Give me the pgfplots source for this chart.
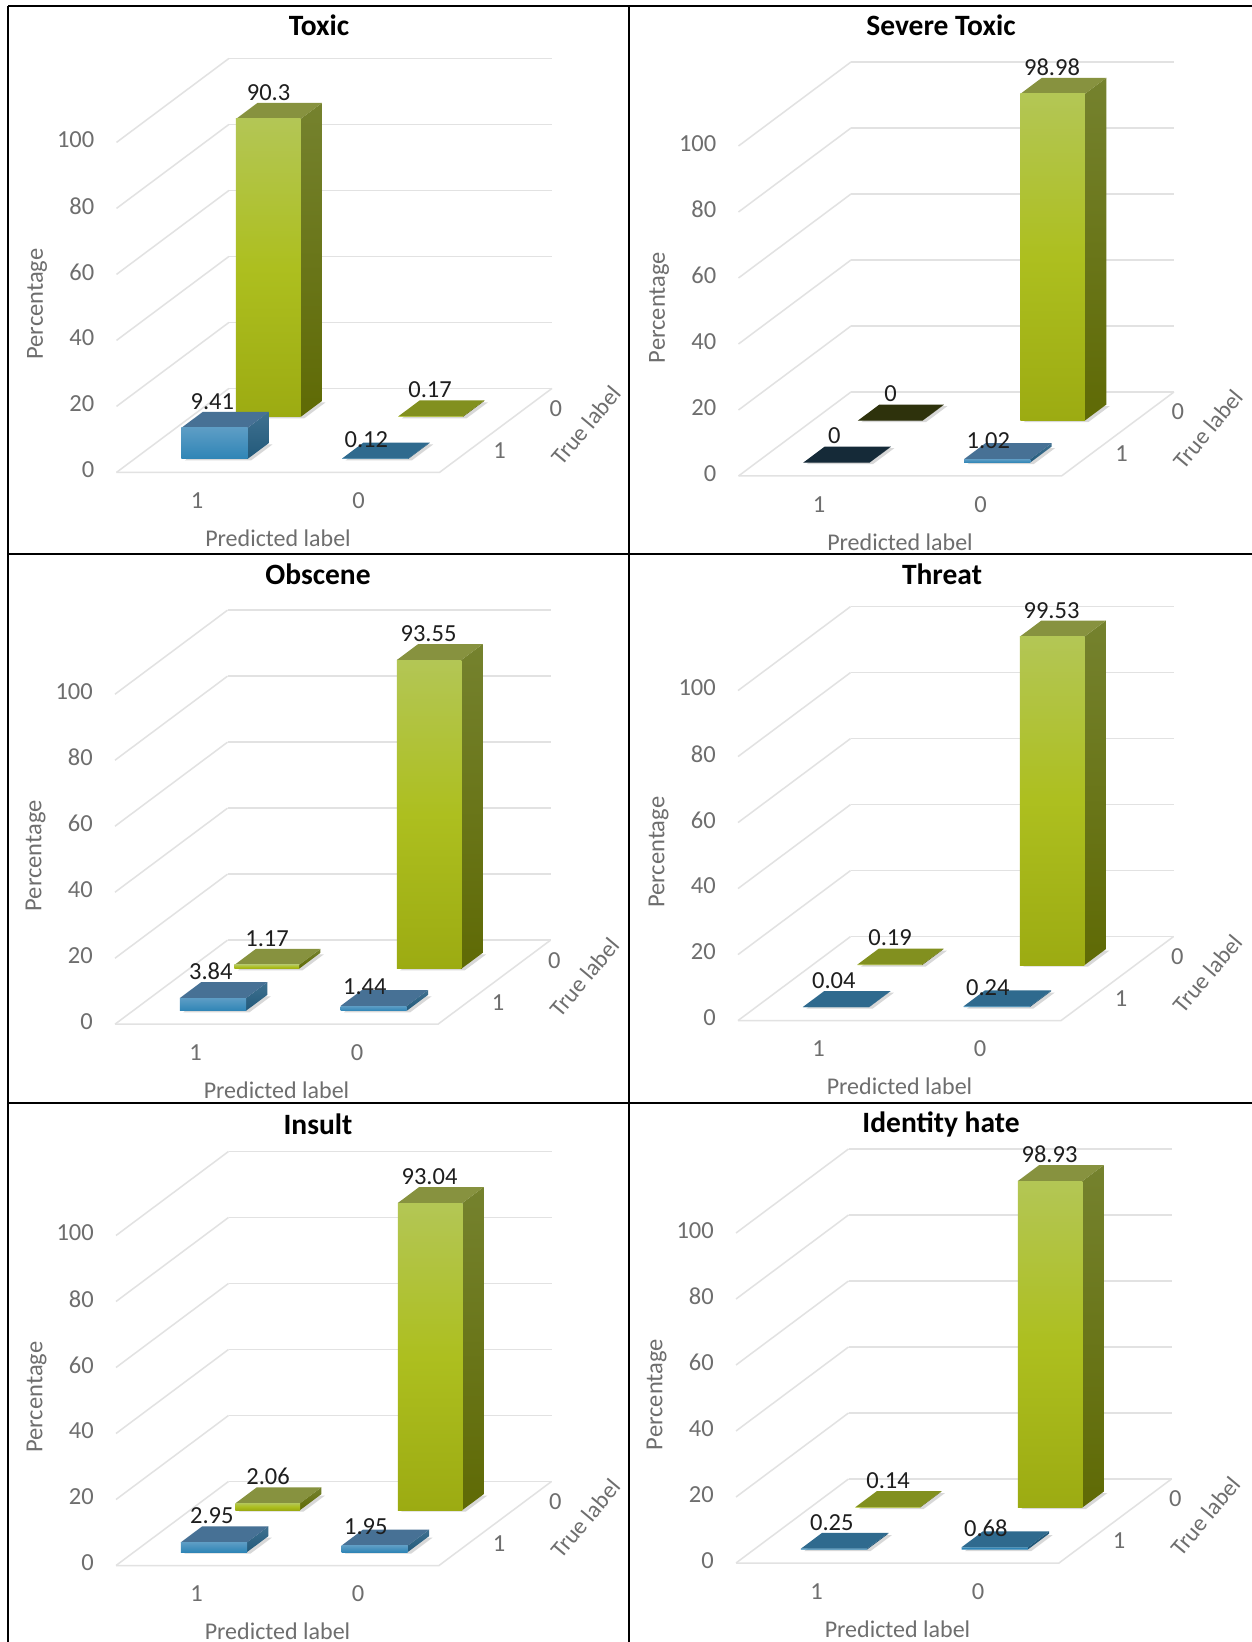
\documentclass[border=0pt]{standalone}
\usepackage{fontspec}
\setmainfont{Carlito}
\usepackage{pgfplots}
\pgfplotsset{compat=1.18}

% Face colours of the two series
\definecolor{gfA}{HTML}{B3C655}\definecolor{gfB}{HTML}{ADBF1F}\definecolor{gfC}{HTML}{9CAB12}
\definecolor{gsA}{HTML}{75822E}\definecolor{gsB}{HTML}{5F6A05}
\definecolor{gtop}{HTML}{87923F}
\definecolor{bfA}{HTML}{5D9DC5}\definecolor{bfB}{HTML}{2F85B6}
\definecolor{bsA}{HTML}{3F7190}\definecolor{bsB}{HTML}{22597A}
\definecolor{btop}{HTML}{477195}
\definecolor{gthin}{HTML}{82901F}\definecolor{bthin}{HTML}{2F6A8E}
\definecolor{gzero}{HTML}{2E320C}\definecolor{bzero}{HTML}{152A38}
\definecolor{gridc}{HTML}{E2E2E2}\definecolor{axtext}{HTML}{6E6E6E}\definecolor{valtext}{HTML}{1E1E1E}
\definecolor{shadowc}{HTML}{D8D8D8}

\pgfdeclareverticalshading{greenfront}{100bp}{color(0bp)=(gfC);color(25bp)=(gfC);color(50bp)=(gfB);color(75bp)=(gfA);color(100bp)=(gfA)}
\pgfdeclareverticalshading{greenside}{100bp}{color(0bp)=(gsB);color(25bp)=(gsB);color(75bp)=(gsA);color(100bp)=(gsA)}
\pgfdeclareverticalshading{bluefront}{100bp}{color(0bp)=(bfB);color(25bp)=(bfB);color(75bp)=(bfA);color(100bp)=(bfA)}
\pgfdeclareverticalshading{blueside}{100bp}{color(0bp)=(bsB);color(25bp)=(bsB);color(75bp)=(bsA);color(100bp)=(bsA)}

\tikzset{
  gfront/.style={shade,shading=greenfront},   gside/.style={shade,shading=greenside},  gface/.style={fill=gtop},
  bfront/.style={shade,shading=bluefront},    bside/.style={shade,shading=blueside},   bface/.style={fill=btop},
  gtfront/.style={fill=gfB},  gtside/.style={fill=gsB},  gtface/.style={fill=gthin},
  btfront/.style={fill=bfB},  btside/.style={fill=bsB},  btface/.style={fill=bthin},
  gzfront/.style={fill=gzero},gzside/.style={fill=gzero},gzface/.style={fill=gzero},
  bzfront/.style={fill=bzero},bzside/.style={fill=bzero},bzface/.style={fill=bzero},
  vallabel/.style={font=\fontsize{24.5}{28}\selectfont,text=valtext,inner sep=0pt,anchor=center,xshift=-12pt,yshift=18.5pt},
  vallow/.style={xshift=-7.5pt,yshift=-7.5pt}
}

% One bar: x0 x1 y0 y1 xc yc height family label-style
\newcommand{\onebar}[9]{%
  \addplot3[forget plot,draw=none,fill=shadowc,xshift=3.5pt,yshift=-1.5pt] coordinates {(#1,#3,0) (#2,#3,0) (#2,#4,0) (#1,#4,0) (#1,#3,0)};
  \addplot3[forget plot,draw=none,#8side]  coordinates {(#2,#3,0) (#2,#4,0) (#2,#4,#7) (#2,#3,#7) (#2,#3,0)};
  \addplot3[forget plot,draw=none,#8face]  coordinates {(#1,#3,#7) (#2,#3,#7) (#2,#4,#7) (#1,#4,#7) (#1,#3,#7)};
  \addplot3[forget plot,draw=none,#8front] coordinates {(#1,#3,0) (#2,#3,0) (#2,#3,#7) (#1,#3,#7) (#1,#3,0)};
  \node[vallabel,#9] at (axis cs:#5,#6,#7) {#7};
}
\newcommand{\barFL}[2]{\onebar{0.29}{0.70}{0.32}{0.70}{0.49}{0.51}{#1}{#2}{}}
\newcommand{\barFR}[2]{\onebar{1.285}{1.695}{0.32}{0.70}{1.49}{0.51}{#1}{#2}{vallow}}
\newcommand{\barBL}[2]{\onebar{0.28}{0.68}{1.32}{1.70}{0.49}{1.51}{#1}{#2}{}}
\newcommand{\barBR}[2]{\onebar{1.285}{1.685}{1.32}{1.70}{1.49}{1.51}{#1}{#2}{}}

\pgfplotsset{
  panel/.style={
    anchor=origin,
    x={(161.5pt,0pt)}, y={(56.25pt,42pt)}, z={(0pt,3.3pt)},
    xmin=0,xmax=2,ymin=0,ymax=2,zmin=0,zmax=100,
    clip=false,
    xtick={0.49,1.49}, xticklabels={1,0},
    ytick={0.5,1.5},   yticklabels={1,0},
    ztick={0,20,40,60,80,100},
    axis line style={draw=none},
    major tick length=0pt,
    zmajorgrids=true, xmajorgrids=false, ymajorgrids=false,
    grid style={gridc,line width=1.5pt},
    /pgf/number format/assume math mode=true,
    tick label style={font=\fontsize{24.5}{28}\selectfont,text=axtext,inner sep=0pt},
    xticklabel style={anchor=center,xshift=1.5pt,yshift=-28.5pt},
    yticklabel style={anchor=center,xshift=32pt,yshift=1pt},
    zticklabel style={anchor=east,xshift=-22pt,yshift=2.5pt},
    xlabel={Predicted label}, ylabel={True label}, zlabel={Percentage},
    every axis x label/.style={at={(axis cs:1,0,0)},anchor=center,yshift=-66pt,inner sep=0pt,font=\fontsize{24}{28}\selectfont,text=axtext},
    every axis y label/.style={at={(axis cs:2,1,0)},anchor=center,xshift=90pt,yshift=5pt,rotate=50,inner sep=0pt,font=\fontsize{23.5}{28}\selectfont,text=axtext},
    every axis z label/.style={at={(axis cs:0,0,51)},anchor=center,xshift=-79.5pt,rotate=90,inner sep=0pt,font=\fontsize{24.5}{28}\selectfont,text=axtext},
  }
}
% Floor outline towards the viewer
\newcommand{\floorlines}{\addplot3[forget plot,gridc,line width=1.5pt] coordinates {(0,0,0) (2,0,0) (2,2,0)};}

\begin{document}
\begin{tikzpicture}[x=1pt,y=1pt]
\path[use as bounding box,fill=white] (0,0) rectangle (1252,1642);

\begin{axis}[panel,at={(116.5pt,1169.6pt)}]
  \floorlines
  \barBL{90.3}{g}\barBR{0.17}{gt}\barFL{9.41}{b}\barFR{0.12}{bt}
\end{axis}
\begin{axis}[panel,at={(738.5pt,1166pt)}]
  \floorlines
  \barBL{0}{gz}\barBR{98.98}{g}\barFL{0}{bz}\barFR{1.02}{b}
\end{axis}
\begin{axis}[panel,at={(115pt,617.8pt)}]
  \floorlines
  \barBL{1.17}{g}\barBR{93.55}{g}\barFL{3.84}{b}\barFR{1.44}{b}
\end{axis}
\begin{axis}[panel,at={(738pt,621.4pt)}]
  \floorlines
  \barBL{0.19}{gt}\barBR{99.53}{g}\barFL{0.04}{bt}\barFR{0.24}{bt}
\end{axis}
\begin{axis}[panel,at={(116pt,76.5pt)}]
  \floorlines
  \barBL{2.06}{g}\barBR{93.04}{g}\barFL{2.95}{b}\barFR{1.95}{b}
\end{axis}
\begin{axis}[panel,at={(736pt,79pt)}]
  \floorlines
  \barBL{0.14}{gt}\barBR{98.93}{g}\barFL{0.25}{bt}\barFR{0.68}{bt}
\end{axis}

% Panel titles
\foreach \tx/\ty/\tt in {319/1617/Toxic,941/1617/Severe Toxic,318/1068/Obscene,942/1068/Threat,318/518/Insult,941/518/Identity hate}
  \node[font=\fontsize{29.5}{34}\selectfont\bfseries,text=black,inner sep=0pt] at (\tx,\ty) {\tt};

% Table rules
\draw[black,line width=2pt] (8,1642-6) -- (1252,1642-6);
\draw[black,line width=2pt] (8,1642-554) -- (1252,1642-554);
\draw[black,line width=2pt] (8,1642-1103) -- (1252,1642-1103);
\draw[black,line width=2pt] (8,0) -- (8,1642-6);
\draw[black,line width=2pt] (629,0) -- (629,1642-6);
\end{tikzpicture}
\end{document}
